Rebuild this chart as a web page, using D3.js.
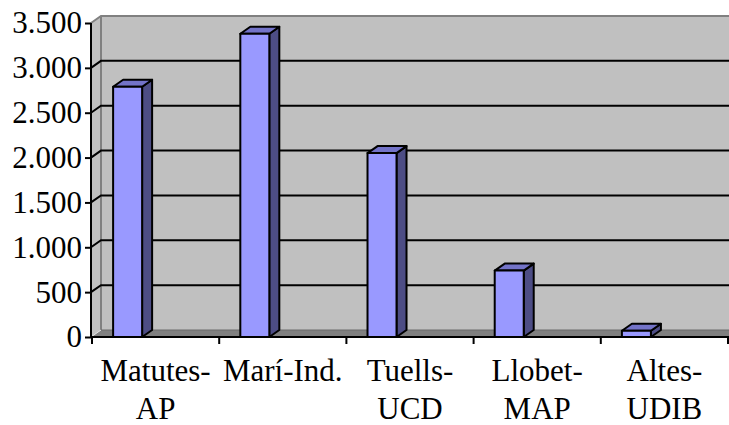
<!DOCTYPE html>
<html><head><meta charset="utf-8">
<script src="https://cdn.jsdelivr.net/npm/d3@7/dist/d3.min.js"></script>
<style>html,body{margin:0;padding:0;background:#fff;}svg{display:block;}
svg text{font-family:"Liberation Serif","Times New Roman",serif;font-size:31px;fill:#000;}</style>
</head><body>
<svg id="chart" width="729" height="425"></svg>
<script>
const categories = ["Matutes-AP", "Marí-Ind.", "Tuells-UCD", "Llobet-MAP", "Altes-UDIB"];
const labelLines = [["Matutes-", "AP"], ["Marí-Ind."], ["Tuells-", "UCD"], ["Llobet-", "MAP"], ["Altes-", "UDIB"]];
const values = [2790, 3380, 2050, 740, 70];
const yTicks = [0, 500, 1000, 1500, 2000, 2500, 3000, 3500];

const svg = d3.select("#chart");
const W = 729;
const DX = 10, DY = -7;
const x0 = 91;
const FONT = '"Liberation Serif", "Times New Roman", serif';
const y = d3.scaleLinear().domain([0, 3500]).range([337, 23]);
const x = d3.scaleBand().domain(categories).range([92, 728]).padding(0);
const loc = d3.formatLocale({decimal: ",", thousands: ".", grouping: [3], currency: ["", ""]});
const fmt = loc.format(",");

// back wall
svg.append("rect").attr("x", x0 + DX).attr("y", y(3500) + DY).attr("width", W - x0 - DX).attr("height", y(0) - y(3500)).attr("fill", "#c0c0c0");
// side wall
svg.append("polygon").attr("points", [[x0, y(3500)], [x0 + DX, y(3500) + DY], [x0 + DX, y(0) + DY], [x0, y(0)]].join(" ")).attr("fill", "#c0c0c0");
// floor
svg.append("polygon").attr("points", [[x0, y(0)], [x0 + DX, y(0) + DY], [W, y(0) + DY], [W, y(0)]].join(" ")).attr("fill", "#808080");
// wall edges
svg.append("path").attr("d", `M${x0},${y(3500)}L${x0 + DX},${y(3500) + DY}L${W},${y(3500) + DY}`).attr("fill", "none").attr("stroke", "#808080").attr("stroke-width", 2);
svg.append("line").attr("x1", x0 + DX).attr("x2", x0 + DX).attr("y1", y(3500) + DY).attr("y2", y(0) + DY).attr("stroke", "#808080").attr("stroke-width", 2);
svg.append("line").attr("x1", x0 + DX).attr("x2", W).attr("y1", y(0) + DY).attr("y2", y(0) + DY).attr("stroke", "#6a6a6a").attr("stroke-width", 1);
svg.append("line").attr("x1", x0).attr("x2", x0 + DX).attr("y1", y(0)).attr("y2", y(0) + DY).attr("stroke", "#e0e0e0").attr("stroke-width", 1);

// gridlines
const grid = yTicks.filter(v => v > 0 && v < 3500);
svg.append("g").selectAll("path").data(grid).join("path")
  .attr("d", v => `M${x0},${y(v)}L${x0 + DX},${y(v) + DY}L${W},${y(v) + DY}`)
  .attr("fill", "none").attr("stroke", "#000").attr("stroke-width", 2);

// bars
const bx = c => x(c) + x.bandwidth() * 0.166;
const bw = x.bandwidth() * 0.228;
const gb = svg.append("g").attr("stroke", "#000").attr("stroke-width", 2).attr("stroke-linejoin", "round");
categories.forEach((c, i) => {
  const l = bx(c), r = l + bw, t = y(values[i]), b = y(0);
  gb.append("polygon").attr("points", [[r, t], [r + DX, t + DY], [r + DX, b + DY], [r, b]].join(" ")).attr("fill", "#4d4d85");
  gb.append("polygon").attr("points", [[l, t], [l + DX, t + DY], [r + DX, t + DY], [r, t]].join(" ")).attr("fill", "#7373c8");
  gb.append("rect").attr("x", l).attr("y", t).attr("width", bw).attr("height", b - t).attr("fill", "#9999ff");
});

// y axis
const yAxis = svg.append("g").attr("transform", `translate(${x0},0)`)
  .call(d3.axisLeft(y).tickValues(yTicks).tickFormat(fmt).tickSize(6).tickPadding(3));
yAxis.attr("font-family", null).attr("font-size", null);
yAxis.select(".domain").attr("stroke", "#000").attr("stroke-width", 2).attr("d", `M0,${y(3500)}V${y(0)}`);
yAxis.selectAll(".tick line").attr("stroke", "#000").attr("stroke-width", 2);
yAxis.selectAll("text").style("font-family", FONT).style("font-size", "31px").attr("fill", "#000");

// x axis
const xAxis = svg.append("g").attr("transform", `translate(0,${y(0)})`);
xAxis.append("line").attr("x1", x0 - 1).attr("x2", W).attr("y1", 0).attr("y2", 0).attr("stroke", "#000").attr("stroke-width", 2);
const bounds = categories.map(c => x(c)).concat([x.range()[1]]);
xAxis.selectAll("line.tk").data(bounds).join("line").attr("class", "tk")
  .attr("x1", d => d).attr("x2", d => d).attr("y1", 0).attr("y2", 7).attr("stroke", "#000").attr("stroke-width", 2);
const lab = xAxis.selectAll("text").data(categories).join("text")
  .style("font-family", FONT).style("font-size", "31px").attr("fill", "#000")
  .attr("text-anchor", "middle");
lab.each(function(c, i) {
  const t = d3.select(this);
  labelLines[i].forEach((s, j) => {
    t.append("tspan").attr("x", x(c) + x.bandwidth() / 2).attr("y", 44 + j * 38).text(s);
  });
});
</script>
</body></html>
